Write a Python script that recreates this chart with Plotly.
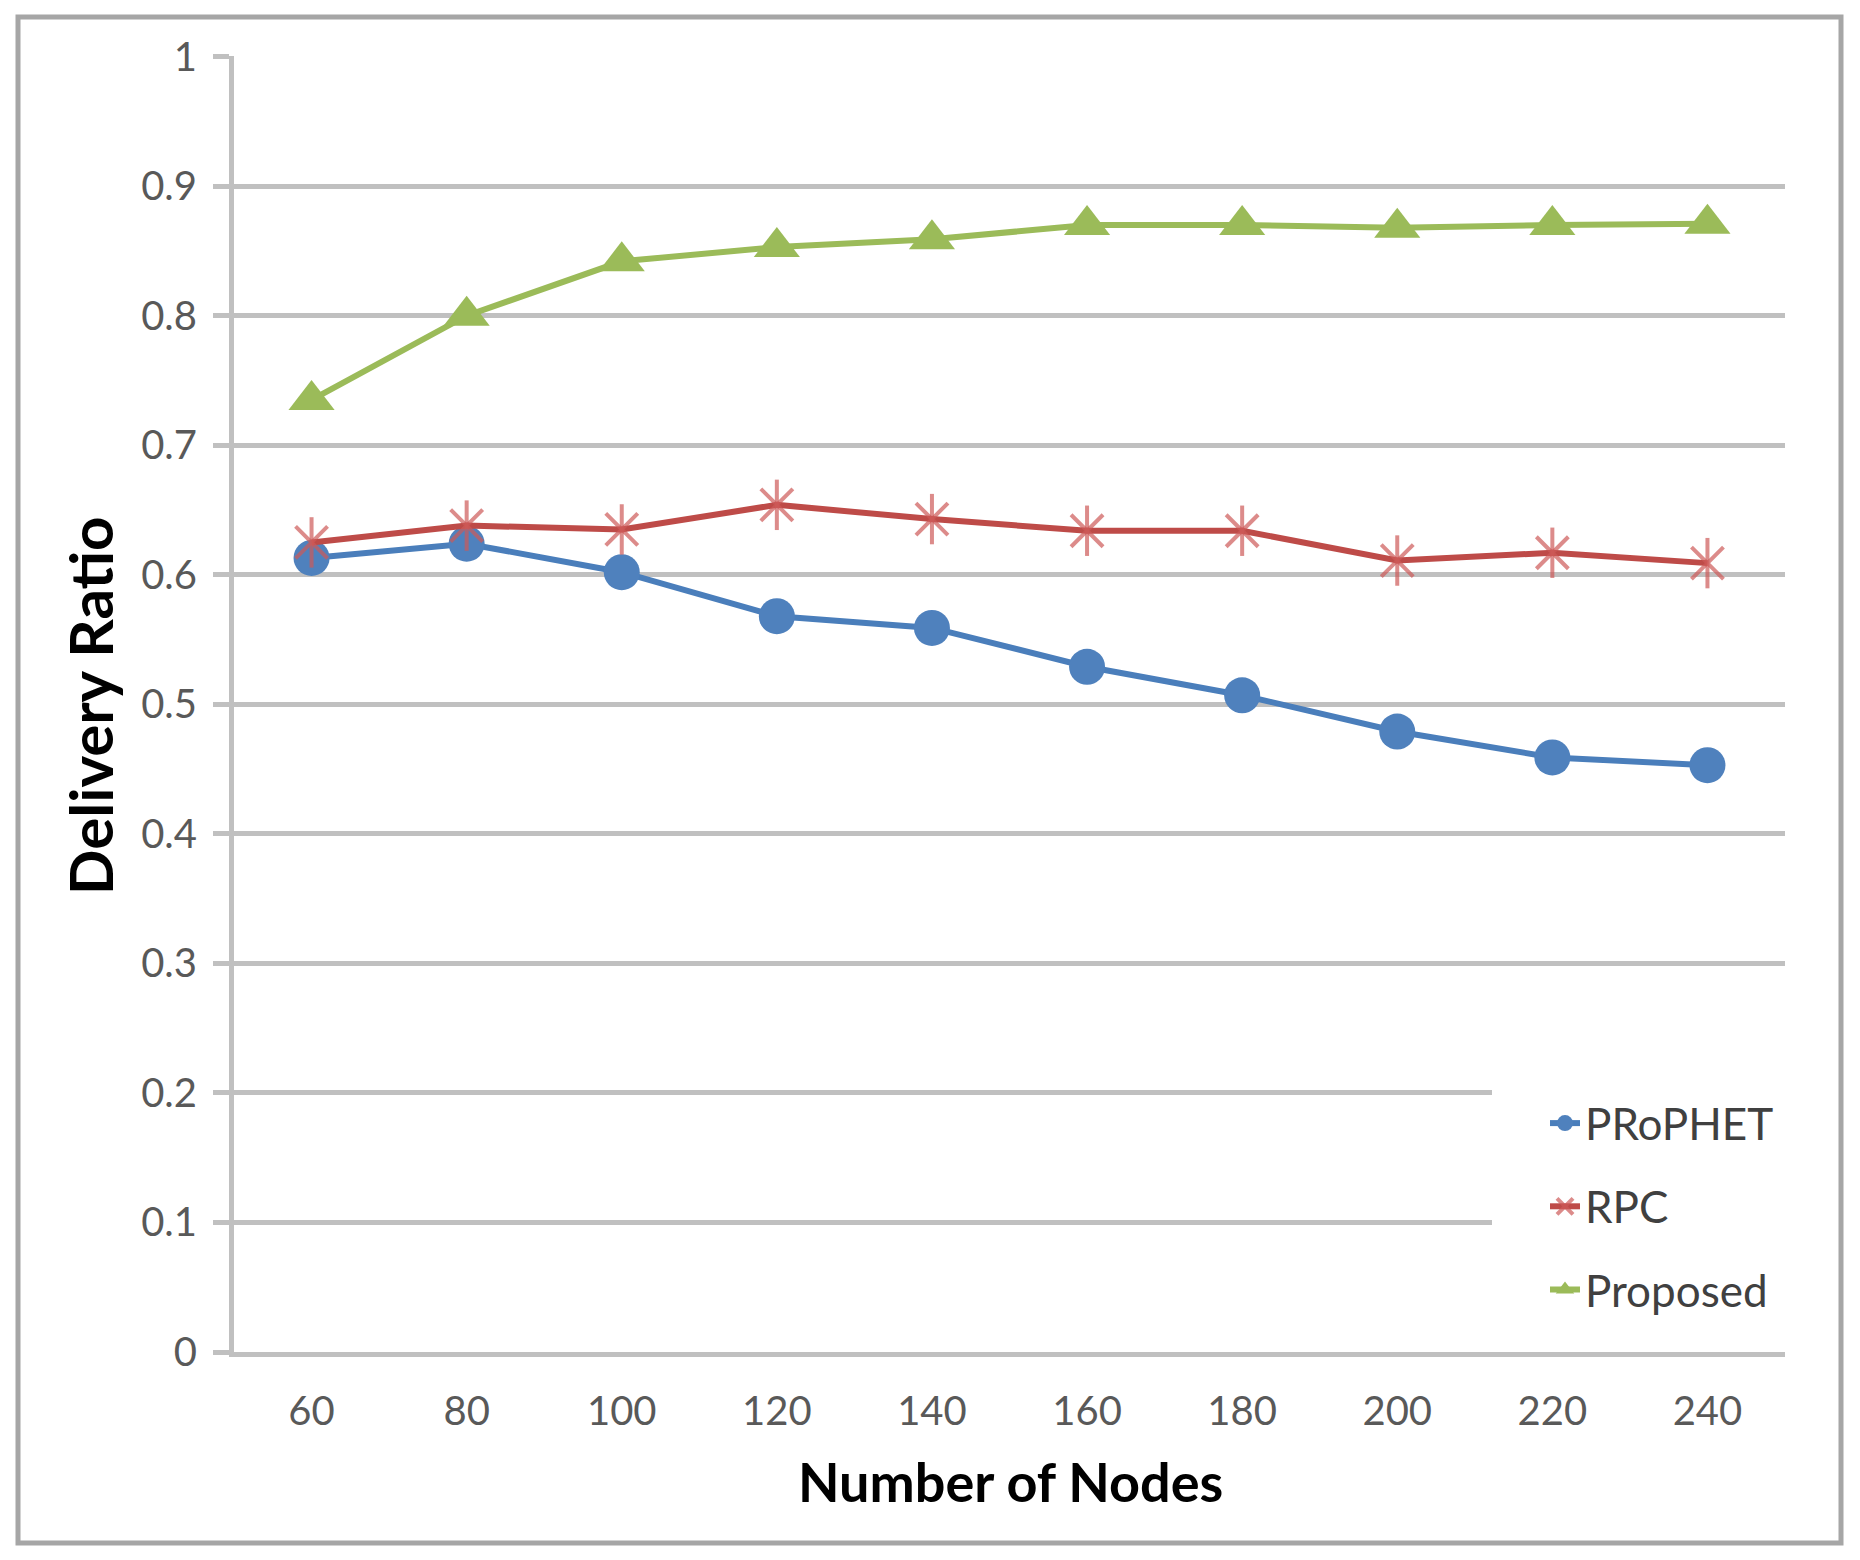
import plotly.graph_objects as go

nodes = ["60", "80", "100", "120", "140", "160", "180", "200", "220", "240"]
prophet = [0.613, 0.624, 0.602, 0.568, 0.559, 0.529, 0.507, 0.479, 0.459, 0.453]
rpc = [0.625, 0.638, 0.635, 0.654, 0.643, 0.634, 0.634, 0.611, 0.617, 0.609]
proposed = [0.735, 0.800, 0.842, 0.853, 0.859, 0.870, 0.870, 0.868, 0.870, 0.871]
y_ticks = [0, 0.1, 0.2, 0.3, 0.4, 0.5, 0.6, 0.7, 0.8, 0.9, 1]
y_tick_text = ["0", "0.1", "0.2", "0.3", "0.4", "0.5", "0.6", "0.7", "0.8", "0.9", "1"]

FONT = "Lato"
GRID = "#c0c0c0"
STAR = "rgba(205,90,88,0.7)"

fig = go.Figure()
fig.add_trace(go.Scatter(
    x=nodes, y=prophet, name="PRoPHET", mode="lines+markers", legendgroup="a",
    line=dict(color="#4A7EBB", width=6),
    marker=dict(symbol="circle", size=36, color="#4F81BD"),
))
fig.add_trace(go.Scatter(
    x=nodes, y=rpc, name="RPC", mode="lines+markers", legendgroup="b",
    line=dict(color="#BE4B48", width=6),
    marker=dict(symbol="x-thin-open", size=32, color=STAR,
                line=dict(color=STAR, width=4)),
))
fig.add_trace(go.Scatter(
    x=nodes, y=rpc, name="RPC", mode="markers", legendgroup="b", showlegend=False,
    marker=dict(symbol="line-ns-open", size=36, color=STAR,
                line=dict(color=STAR, width=4)),
))
fig.add_trace(go.Scatter(
    x=nodes, y=proposed, name="Proposed", mode="lines+markers", legendgroup="c",
    line=dict(color="#9BBB59", width=6),
    marker=dict(symbol="triangle-up", size=40, color="#9BBB59"),
))

L, R, T, B = 234, 75, 56, 208
W, H = 1860, 1560
pw, ph = W - L - R, H - T - B

def px(x):
    return (x - L) / pw

def py(y):
    return (H - B - y) / ph

fig.update_layout(
    width=W, height=H,
    margin=dict(l=L, r=R, t=T, b=B, pad=0),
    paper_bgcolor="white", plot_bgcolor="white",
    font=dict(family=FONT, color="#595959"),
    showlegend=True,
    legend=dict(
        x=px(1545), y=py(1088), xanchor="left", yanchor="top",
        bgcolor="rgba(0,0,0,0)", borderwidth=0,
        font=dict(family=FONT, size=44, color="#404040"),
        tracegroupgap=23,
    ),
    xaxis=dict(
        type="category", categoryorder="array", categoryarray=nodes,
        range=[-0.5, 9.5], showgrid=False, zeroline=False,
        showline=True, linecolor=GRID, linewidth=5,
        ticks="", ticklabelstandoff=20,
        tickfont=dict(family=FONT, size=40, color="#595959"),
    ),
    yaxis=dict(
        range=[0, 1.0005], tickvals=y_ticks, ticktext=y_tick_text,
        showgrid=True, gridcolor=GRID, gridwidth=5, zeroline=False,
        showline=True, linecolor=GRID, linewidth=5,
        ticks="outside", ticklen=16, tickwidth=5, tickcolor=GRID,
        ticklabelstandoff=8,
        tickfont=dict(family=FONT, size=40, color="#595959"),
    ),
    shapes=[
        dict(type="rect", xref="paper", yref="paper", layer="above",
             x0=px(1492), x1=px(1790), y0=py(1347), y1=py(1070),
             fillcolor="white", line=dict(width=0)),
        dict(type="rect", xref="paper", yref="paper", layer="above",
             x0=px(18), x1=px(1841), y0=py(1543), y1=py(17),
             fillcolor="rgba(0,0,0,0)", line=dict(color="#a6a6a6", width=5)),
    ],
    annotations=[
        dict(text="<b>Delivery Ratio</b>", xref="paper", yref="paper",
             x=px(90), y=py(706), xanchor="center", yanchor="middle",
             textangle=-90, showarrow=False,
             font=dict(family=FONT, size=60, color="#000000")),
        dict(text="<b>Number of Nodes</b>", xref="paper", yref="paper",
             x=px(1010), y=py(1482), xanchor="center", yanchor="middle",
             showarrow=False,
             font=dict(family=FONT, size=54, color="#000000")),
    ],
)

fig.write_html("out.html", config={"displayModeBar": False},
               post_script="document.body.style.margin='0';")
